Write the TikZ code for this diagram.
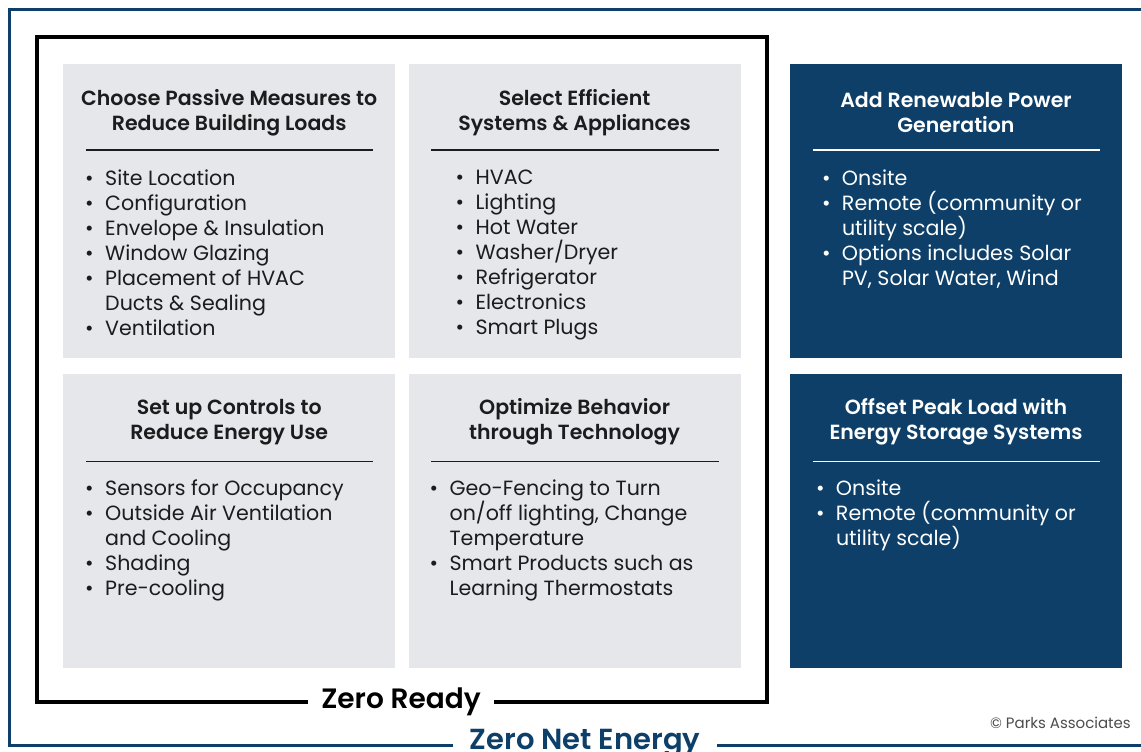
\documentclass[tikz,border=0pt]{standalone}
\usepackage{fontspec}
\setmainfont{Poppins}[BoldFont={Poppins SemiBold}]
\usetikzlibrary{positioning,calc}
\definecolor{navy}{RGB}{13,63,104}
\definecolor{panelgray}{RGB}{230,231,234}
\definecolor{ink}{RGB}{28,28,30}
\newcommand{\evenlines}{\lineskiplimit=-8pt\relax}
\tikzset{panel/.style={fill=panelgray, minimum width=332pt, minimum height=294pt, inner sep=0pt, anchor=north west}}
\tikzset{darkpanel/.style={panel, fill=navy}}
\tikzstyle{head}=[font=\fontsize{20.5}{25}\selectfont\bfseries\evenlines, align=center, inner sep=0pt, text=ink]
\tikzstyle{items}=[font=\fontsize{20.6}{25}\selectfont\evenlines, align=left, inner sep=0pt, anchor=north west, text=ink]
\tikzstyle{rule}=[line width=1.6pt, draw=ink]
\tikzstyle{frametag}=[font=\fontsize{28}{30}\selectfont\bfseries, fill=white, inner xsep=13pt, inner ysep=2pt, anchor=base]
\newcommand{\itm}{\makebox[20pt][l]{\textbullet}}
\newcommand{\cnt}{\hspace*{20pt}}

\begin{document}
\begin{tikzpicture}[x=1pt, y=1pt, node distance=13pt]
\useasboundingbox (0,0) rectangle (1141,752);
\clip (0,0) rectangle (1141,752);
% outer and inner frames
\draw[navy, line width=3pt] (9,6) rectangle (1160,742);
\draw[black, line width=4pt] (37,50) rectangle (767,715);
% panels
\node[panel] (p1) at (63,688) {};
\node[panel][right=13pt of p1] (p2) {};
\node[panel][below=15pt of p1] (p3) {};
\node[panel][below=15pt of p2] (p4) {};
\node[darkpanel][right=49pt of p2] (b1) {};
\node[darkpanel][below=15pt of b1] (b2) {};
% headings
\node[head] (h1) at ([yshift=-48.5pt]p1.north) {Choose Passive Measures to\\Reduce Building Loads};
\node[head] (h2) at ([yshift=-48.5pt]p2.north) {Select Efficient\\Systems \& Appliances};
\node[head] (h3) at ([yshift=-48.5pt]p3.north) {Set up Controls to\\Reduce Energy Use};
\node[head] (h4) at ([yshift=-48.5pt]p4.north) {Optimize Behavior\\through Technology};
\node[head, text=white] (h5) at ([yshift=-48.5pt]b1.north) {Add Renewable Power\\Generation};
\node[head, text=white] (h6) at ([yshift=-48.5pt]b2.north) {Offset Peak Load with\\Energy Storage Systems};
% rules under headings
\draw[rule] ([xshift=23pt,yshift=-86pt]p1.north west) -- ([xshift=-22pt,yshift=-86pt]p1.north east);
\draw[rule] ([xshift=23pt,yshift=-86pt]p2.north west) -- ([xshift=-22pt,yshift=-86pt]p2.north east);
\draw[rule] ([xshift=23pt,yshift=-88pt]p3.north west) -- ([xshift=-22pt,yshift=-88pt]p3.north east);
\draw[rule] ([xshift=23pt,yshift=-88pt]p4.north west) -- ([xshift=-22pt,yshift=-88pt]p4.north east);
\draw[rule, draw=white] ([xshift=23pt,yshift=-86pt]b1.north west) -- ([xshift=-22pt,yshift=-86pt]b1.north east);
\draw[rule, draw=white] ([xshift=23pt,yshift=-88pt]b2.north west) -- ([xshift=-22pt,yshift=-88pt]b2.north east);
% bullet lists
\node[items] (l1) at ([xshift=22pt,yshift=-106pt]p1.north west) {\itm Site Location\\\itm Configuration\\\itm Envelope \& Insulation\\\itm Window Glazing\\\itm Placement of HVAC\\\cnt Ducts \& Sealing\\\itm Ventilation};
\node[items] (l2) at ([xshift=47pt,yshift=-106pt]p2.north west) {\itm HVAC\\\itm Lighting\\\itm Hot Water\\\itm Washer/Dryer\\\itm Refrigerator\\\itm Electronics\\\itm Smart Plugs};
\node[items] (l3) at ([xshift=22pt,yshift=-106pt]p3.north west) {\itm Sensors for Occupancy\\\itm Outside Air Ventilation\\\cnt and Cooling\\\itm Shading\\\itm Pre-cooling};
\node[items] (l4) at ([xshift=21pt,yshift=-106pt]p4.north west) {\itm Geo-Fencing to Turn\\\cnt on/off lighting, Change\\\cnt Temperature\\\itm Smart Products such as\\\cnt Learning Thermostats};
\node[items, text=white] (l5) at ([xshift=32pt,yshift=-106pt]b1.north west) {\itm Onsite\\\itm Remote (community or\\\cnt utility scale)\\\itm Options includes Solar\\\cnt PV, Solar Water, Wind};
\node[items, text=white] (l6) at ([xshift=26pt,yshift=-106pt]b2.north west) {\itm Onsite\\\itm Remote (community or\\\cnt utility scale)};
% frame labels
\node[frametag] (zr) at (401,43) {Zero Ready};
\node[frametag, text=navy, font=\fontsize{29}{30}\selectfont\bfseries, inner xsep=17pt] (zne) at (585,2) {Zero Net Energy};
\node[font=\fontsize{15}{16}\selectfont, text=black!70, anchor=base east, inner sep=0pt] (copy) at (1131,23) {© Parks Associates};
\end{tikzpicture}
\end{document}
